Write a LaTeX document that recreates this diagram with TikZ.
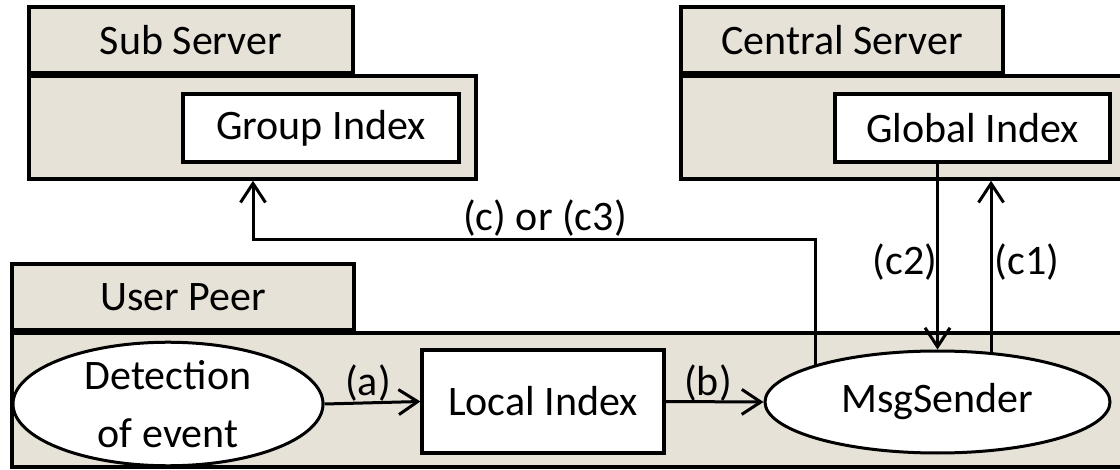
\documentclass[tikz,border=0pt]{standalone}
\usepackage{fontspec}
\setmainfont{Carlito}
\usetikzlibrary{arrows.meta,shapes.geometric}
\definecolor{beige}{RGB}{230,226,216}
\begin{document}
\begin{tikzpicture}[x=1pt,y=-1pt,
  txt/.style={font=\fontsize{42pt}{58pt}\selectfont},
  box/.style={rectangle,draw=black,line width=3.5pt,fill=beige,inner sep=0pt,txt},
  idx/.style={rectangle,draw=black,line width=3.2pt,fill=white,inner sep=0pt,txt},
  ell/.style={ellipse,draw=black,line width=3pt,fill=white,inner sep=0pt,align=center,txt},
  conn/.style={line width=3pt,-{Straight Barb[length=19pt,width=25pt,line width=3pt]}},
  lbl/.style={inner sep=0pt,txt}]
\useasboundingbox (0,0) rectangle (1120,470);
\clip (0,0) rectangle (1120,470);
% Sub Server
\node[box,minimum width=447pt,minimum height=103pt] (subbody) at (252.5,127.5) {};
\node[box,minimum width=324pt,minimum height=66pt] (subtab) at (191,40) {Sub Server};
\node[idx,minimum width=276pt,minimum height=68pt] (group) at (321,128) {Group Index};
% Central Server
\node[box,minimum width=447pt,minimum height=103pt] (cbody) at (904.5,127.5) {};
\node[box,minimum width=322pt,minimum height=66pt] (ctab) at (842,40) {Central Server};
\node[idx,minimum width=275pt,minimum height=68pt] (glob) at (972.5,128) {Global Index};
% User Peer
\node[box,minimum width=1118pt,minimum height=134pt] (ubody) at (571,400) {};
\node[box,minimum width=342pt,minimum height=66pt] (utab) at (183,297) {User Peer};
\node[ell,minimum width=310pt,minimum height=104pt] (det) at (168,404) {Detection\\of event};
\node[idx,minimum width=242pt,minimum height=103pt] (loc) at (543,401.5) {Local Index};
\node[ell,minimum width=345pt,minimum height=102pt] (msg) at (937.5,402) {MsgSender};
% connectors
\draw[conn] (det.east) -- (loc.west);
\draw[conn] (loc.east) -- (msg.west);
\draw[conn] (glob.south -| msg.north) -- (msg.north);
\draw[conn] (msg.43.4) -- (msg.43.4 |- cbody.south);
\coordinate (cturn) at (253,240);
\draw[conn] (msg.163.1) |- (cturn) -- (cturn |- subbody.south);
% labels
\node[lbl] (la) at (368,383) {(a)};
\node[lbl] (lb) at (708,383) {(b)};
\node[lbl] (lc) at (545,218) {(c) or (c3)};
\node[lbl] (lc2) at (905,262) {(c2)};
\node[lbl] (lc1) at (1027,262) {(c1)};
\end{tikzpicture}
\end{document}
